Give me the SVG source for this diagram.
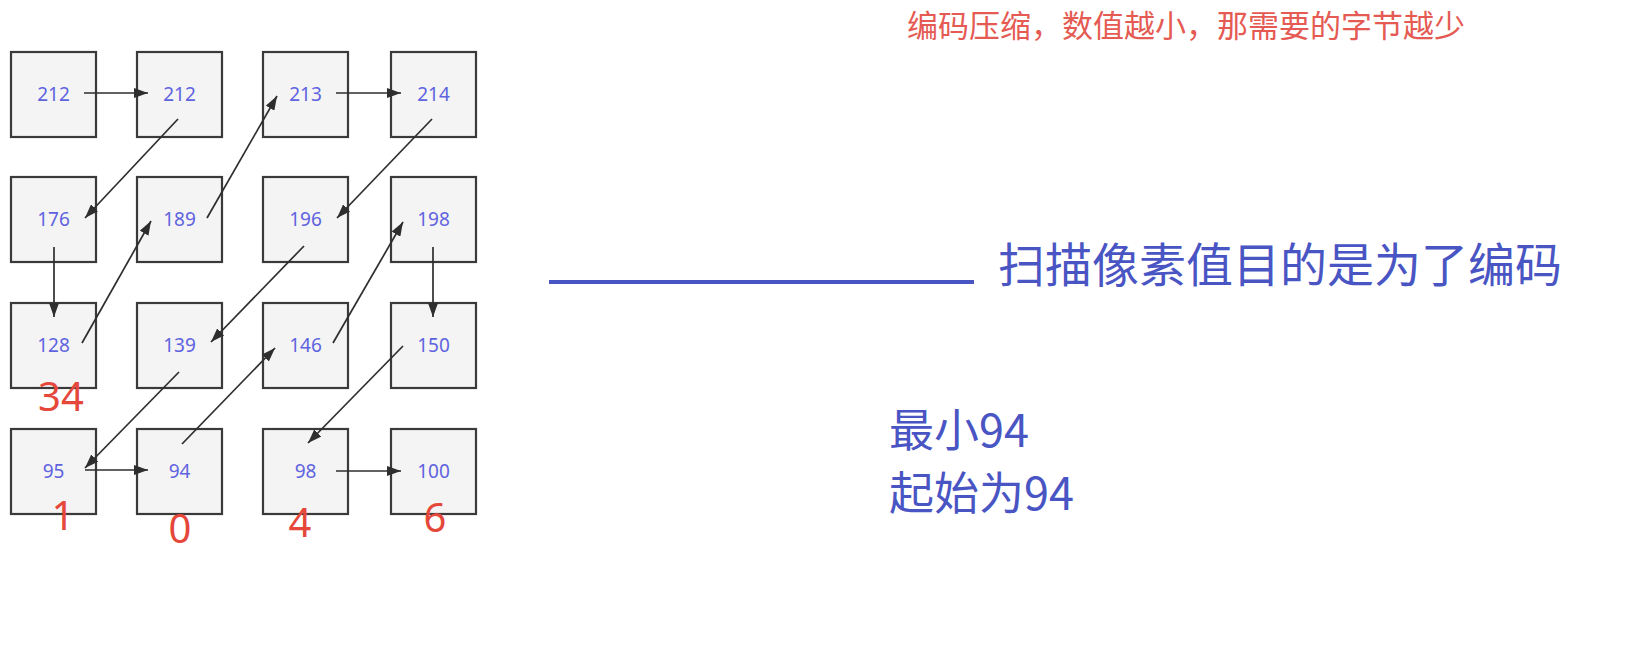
<svg xmlns="http://www.w3.org/2000/svg" width="1648" height="660" viewBox="0 0 1648 660">
<style>
.box{fill:#f4f4f4;stroke:#3a3a3a;stroke-width:2.2}
.val{font-family:"Noto Sans","Noto Sans CJK SC",sans-serif;font-size:19px;fill:#5f63e0;text-anchor:middle}
.edge{stroke:#2e2e2e;stroke-width:1.7;fill:none;marker-end:url(#ah)}
.red{font-family:"Noto Sans","Noto Sans CJK SC",sans-serif;font-size:40px;fill:#e5473b;text-anchor:middle}
.note{font-family:"Noto Sans CJK SC","Noto Sans",sans-serif;fill:#4a55c4}
</style>
<defs>
<marker id="ah" viewBox="0 0 14 10" refX="14" refY="5" markerWidth="14" markerHeight="10" markerUnits="userSpaceOnUse" orient="auto">
<path d="M0,0 L14,5 L0,10 Z" fill="#2e2e2e"/>
</marker>
</defs>
<rect width="1648" height="660" fill="#ffffff"/>
<g id="n00"><rect class="box" x="11" y="52" width="85" height="85"/><text class="val" x="53.5" y="101">212</text></g>
<g id="n01"><rect class="box" x="137" y="52" width="85" height="85"/><text class="val" x="179.5" y="101">212</text></g>
<g id="n02"><rect class="box" x="263" y="52" width="85" height="85"/><text class="val" x="305.5" y="101">213</text></g>
<g id="n03"><rect class="box" x="391" y="52" width="85" height="85"/><text class="val" x="433.5" y="101">214</text></g>
<g id="n10"><rect class="box" x="11" y="177" width="85" height="85"/><text class="val" x="53.5" y="226">176</text></g>
<g id="n11"><rect class="box" x="137" y="177" width="85" height="85"/><text class="val" x="179.5" y="226">189</text></g>
<g id="n12"><rect class="box" x="263" y="177" width="85" height="85"/><text class="val" x="305.5" y="226">196</text></g>
<g id="n13"><rect class="box" x="391" y="177" width="85" height="85"/><text class="val" x="433.5" y="226">198</text></g>
<g id="n20"><rect class="box" x="11" y="303" width="85" height="85"/><text class="val" x="53.5" y="352">128</text></g>
<g id="n21"><rect class="box" x="137" y="303" width="85" height="85"/><text class="val" x="179.5" y="352">139</text></g>
<g id="n22"><rect class="box" x="263" y="303" width="85" height="85"/><text class="val" x="305.5" y="352">146</text></g>
<g id="n23"><rect class="box" x="391" y="303" width="85" height="85"/><text class="val" x="433.5" y="352">150</text></g>
<g id="n30"><rect class="box" x="11" y="429" width="85" height="85"/><text class="val" x="53.5" y="478">95</text></g>
<g id="n31"><rect class="box" x="137" y="429" width="85" height="85"/><text class="val" x="179.5" y="478">94</text></g>
<g id="n32"><rect class="box" x="263" y="429" width="85" height="85"/><text class="val" x="305.5" y="478">98</text></g>
<g id="n33"><rect class="box" x="391" y="429" width="85" height="85"/><text class="val" x="433.5" y="478">100</text></g>
<g id="connectors">
<line class="edge" x1="84" y1="93" x2="148" y2="93"/>
<line class="edge" x1="178" y1="119" x2="85" y2="218"/>
<line class="edge" x1="54" y1="247" x2="54" y2="317"/>
<line class="edge" x1="82" y1="343" x2="151" y2="221"/>
<line class="edge" x1="207" y1="218" x2="277" y2="96"/>
<line class="edge" x1="336" y1="93" x2="401" y2="93"/>
<line class="edge" x1="432" y1="119" x2="337" y2="218"/>
<line class="edge" x1="304" y1="246" x2="211" y2="342"/>
<line class="edge" x1="179" y1="372" x2="85" y2="468"/>
<line class="edge" x1="85" y1="470" x2="148" y2="470"/>
<line class="edge" x1="182" y1="444" x2="275" y2="348"/>
<line class="edge" x1="333" y1="343" x2="403" y2="222"/>
<line class="edge" x1="433" y1="247" x2="433" y2="317"/>
<line class="edge" x1="403" y1="346" x2="308" y2="443"/>
<line class="edge" x1="336" y1="471" x2="401" y2="471"/>
</g>
<g id="codes">
<text class="red" x="61" y="411">34</text>
<text class="red" x="63" y="530">1</text>
<text class="red" x="180" y="543">0</text>
<text class="red" x="300" y="537">4</text>
<text class="red" x="435" y="532">6</text>
</g>
<text x="907" y="37" font-family="Noto Sans CJK SC, sans-serif" font-size="31" fill="#e55a52">编码压缩，数值越小，那需要的字节越少</text>
<line x1="549" y1="282" x2="974" y2="282" stroke="#4a55c4" stroke-width="4"/>
<text class="note" x="998" y="282" font-size="47">扫描像素值目的是为了编码</text>
<text class="note" x="889" y="447" font-size="45">最小94</text>
<text class="note" x="889" y="510" font-size="45">起始为94</text>
</svg>
